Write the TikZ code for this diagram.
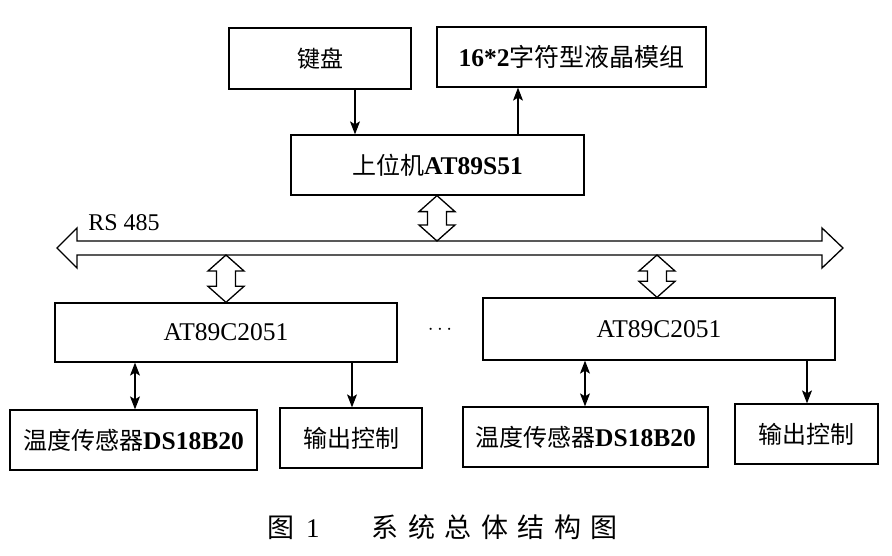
\documentclass[tikz,border=0pt]{standalone}
\usepackage{fontspec}
\setmainfont{Liberation Serif}
\newfontfamily\cjk{Noto Sans CJK SC}
\usetikzlibrary{arrows.meta,calc}
\newcommand\vhollow[2]{\draw[hollow] let \p1=#1, \p2=#2 in
  (\x1,\y1) -- (\x1+18pt,\y1-16pt) -- (\x1+9.5pt,\y1-16pt) -- (\x1+9.5pt,\y2+16pt) -- (\x1+18pt,\y2+16pt)
  -- (\x1,\y2) -- (\x1-18pt,\y2+16pt) -- (\x1-9.5pt,\y2+16pt) -- (\x1-9.5pt,\y1-16pt) -- (\x1-18pt,\y1-16pt) -- cycle;}
\newcommand\lat[1]{{\fontsize{25.5}{28}\selectfont #1}}
\begin{document}
\begin{tikzpicture}[x=1pt,y=-1pt,
  >={Stealth[length=13pt,width=10pt,inset=3pt]},
  box/.style={draw,line width=1.3pt,inner sep=0pt,font=\fontsize{24}{28}\selectfont},
  arr/.style={line width=1.1pt,->},
  darr/.style={line width=1.1pt,<->},
  hollow/.style={draw,line width=1.3pt,fill=white,line join=miter}]
\useasboundingbox[fill=white] (0,0) rectangle (892,556);

% boxes
\node[box,minimum width=182pt,minimum height=61pt,font=\fontsize{23}{28}\selectfont] (kb) at (320,58.5) {\cjk 键盘};
\node[box,minimum width=269pt,minimum height=60pt] (lcd) at (571.5,57) {\lat{\textbf{16*2}}{\cjk\fontsize{25}{28}\selectfont 字符型液晶模组}};
\node[box,minimum width=293pt,minimum height=60pt] (host) at (437.5,165) {{\cjk 上位机}\lat{\textbf{AT89S51}}};
\node[box,minimum width=342pt,minimum height=59pt] (s1) at (226,332.5) {\lat{AT89C2051}};
\node[box,minimum width=352pt,minimum height=62pt] (s2) at (659,329) {\lat{AT89C2051}};
\node[box,minimum width=247pt,minimum height=60pt] (t1) at (133.5,440) {{\cjk 温度传感器}\lat{\textbf{DS18B20}}};
\node[box,minimum width=142pt,minimum height=60pt] (o1) at (351,438) {\cjk 输出控制};
\node[box,minimum width=245pt,minimum height=60pt] (t2) at (585.5,437) {{\cjk 温度传感器}\lat{\textbf{DS18B20}}};
\node[box,minimum width=143pt,minimum height=60pt] (o2) at (806.5,434) {\cjk 输出控制};

\node[font=\fontsize{22}{26}\selectfont] (dots) at (440,330) {$\cdots$};
\node[font=\fontsize{24}{26}\selectfont] (rs) at (124,223) {RS 485};

% bus
\coordinate (busL) at (57,248);
\coordinate (busR) at (843,248);
\coordinate (busTop) at (0,241);
\coordinate (busBot) at (0,255);
\draw[hollow] let \p1=(busL), \p2=(busR) in
  (\x1,\y1) -- (\x1+20pt,\y1+20pt) -- (\x1+20pt,\y1+7pt) -- (\x2-21pt,\y1+7pt) -- (\x2-21pt,\y1+20pt)
  -- (\x2,\y2) -- (\x2-21pt,\y2-20pt) -- (\x2-21pt,\y2-7pt) -- (\x1+20pt,\y1-7pt) -- (\x1+20pt,\y1-20pt) -- cycle;

% hollow bidirectional arrows
\coordinate (h0) at (437,0);
\coordinate (h1) at (226,0);
\coordinate (h2) at (657,0);
\vhollow{(h0 |- host.south)}{(h0 |- busTop)}
\vhollow{(h1 |- busBot)}{(h1 |- s1.north)}
\vhollow{(h2 |- busBot)}{(h2 |- s2.north)}

% thin arrows
\coordinate (a1) at (355,0);
\coordinate (a2) at (518,0);
\coordinate (a3) at (135,0);
\coordinate (a4) at (352,0);
\coordinate (a5) at (585,0);
\coordinate (a6) at (807,0);
\draw[arr] (a1 |- kb.south) -- (a1 |- host.north);
\draw[arr] (a2 |- host.north) -- (a2 |- lcd.south);
\draw[darr] (a3 |- s1.south) -- (a3 |- t1.north);
\draw[arr] (a4 |- s1.south) -- (a4 |- o1.north);
\draw[darr] (a5 |- s2.south) -- (a5 |- t2.north);
\draw[arr] (a6 |- s2.south) -- (a6 |- o2.north);

% caption
\node[anchor=west,inner sep=0pt,font=\fontsize{27}{30}\selectfont] (cap) at (267,527)
  {{\cjk 图}\hspace{12pt}1\hspace{52pt}{\cjk 系\hspace{9.5pt}统\hspace{9.5pt}总\hspace{9.5pt}体\hspace{9.5pt}结\hspace{9.5pt}构\hspace{9.5pt}图}};
\end{tikzpicture}
\end{document}
